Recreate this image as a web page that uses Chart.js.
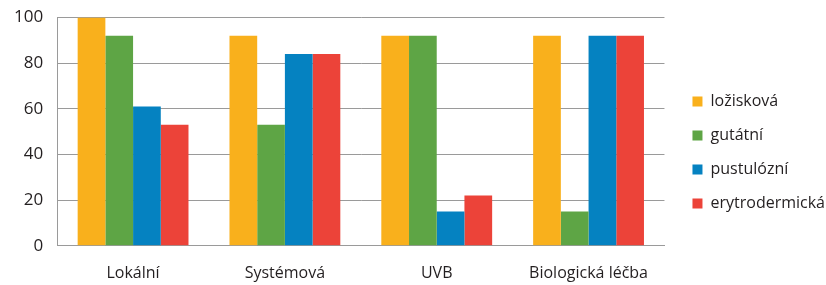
<!DOCTYPE html>
<html>
<head>
<meta charset="utf-8">
<script src="https://cdn.jsdelivr.net/npm/chart.js@4"></script>
<style>
  html, body { margin: 0; padding: 0; background: #fff; }
  #wrap { width: 826px; height: 285px; }
</style>
</head>
<body>
<div id="wrap"><canvas id="graf"></canvas></div>
<script>
const kategorie = ["Lokální", "Systémová", "UVB", "Biologická léčba"];
const lozisková = [100, 92, 92, 92];
const gutatni = [92, 53, 92, 15];
const pustulozni = [61, 84, 15, 92];
const erytrodermicka = [53, 84, 22, 92];
const yTicks = [0, 20, 40, 60, 80, 100];

const pismo = "'Open Sans', 'Noto Sans', sans-serif";
const seda = "#9a9a9a";

Chart.defaults.font.family = pismo;
Chart.defaults.color = "#231f20";

// legenda je v originale posunuta kousek doprava a dolu
const posunLegendy = {
  id: "posunLegendy",
  afterLayout(chart) {
    const lg = chart.legend;
    lg.left += 10; lg.right += 10;
    lg.top += 2; lg.bottom += 2;
  }
};

new Chart(document.getElementById("graf"), {
  type: "bar",
  data: {
    labels: kategorie,
    datasets: [
      {label: "ložisková", data: lozisková, backgroundColor: "#f9b01c"},
      {label: "gutátní", data: gutatni, backgroundColor: "#5ea545"},
      {label: "pustulózní", data: pustulozni, backgroundColor: "#0582c1"},
      {label: "erytrodermická", data: erytrodermicka, backgroundColor: "#ec4339"}
    ]
  },
  plugins: [posunLegendy],
  options: {
    responsive: true,
    maintainAspectRatio: false,
    animation: false,
    layout: {padding: {left: 0, top: 0, right: 1, bottom: -16}},
    datasets: {bar: {categoryPercentage: 0.73, barPercentage: 1}},
    plugins: {
      tooltip: {enabled: false},
      legend: {
        position: "right",
        labels: {boxWidth: 10, boxHeight: 10, padding: 18, font: {size: 16}}
      }
    },
    scales: {
      x: {
        grid: {display: false, drawTicks: false},
        border: {color: seda},
        ticks: {padding: 18, font: {size: 16}}
      },
      y: {
        min: 0, max: 100,
        afterBuildTicks: ax => { ax.ticks = yTicks.map(v => ({value: v})); },
        afterFit: ax => { ax.paddingTop = 17.5; ax.paddingBottom = 10; },
        grid: {color: seda, drawTicks: false},
        border: {color: seda},
        ticks: {padding: 14, font: {size: 17}}
      }
    }
  }
});
</script>
</body>
</html>
